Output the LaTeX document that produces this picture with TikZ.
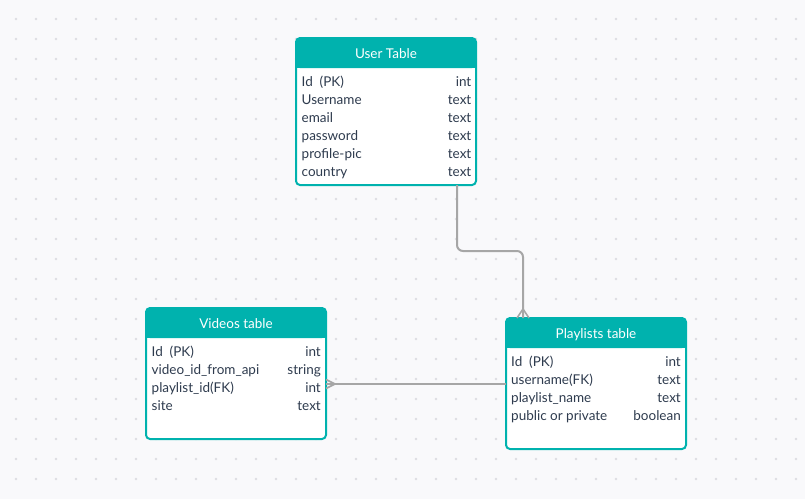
\documentclass[tikz,border=0pt]{standalone}
\usepackage{fontspec}
\setmainfont{Lato}
\definecolor{headteal}{HTML}{00B2AE}
\definecolor{ink}{HTML}{2E3B4E}
\definecolor{paper}{HTML}{F9F9FB}
\definecolor{dotgrey}{HTML}{DDDDE2}
\definecolor{linkgrey}{HTML}{A6A6A6}
\begin{document}
\begin{tikzpicture}[
        x=1pt, y=-1pt,
        font=\fontsize{13.5}{16}\selectfont
    ]
    \tikzset{
        tablebox/.style = {rectangle, draw=headteal, line width=2pt, rounded corners=4pt, fill=white,
                           minimum width=180pt, inner sep=0pt, outer sep=0pt, anchor=north west},
        tablehead/.style = {text=white, anchor=base, inner sep=0pt},
        field/.style = {text=ink, anchor=base west, inner sep=0pt},
        ftype/.style = {text=ink, anchor=base east, inner sep=0pt},
        link/.style = {draw=linkgrey, line width=2pt, rounded corners=6pt},
        crow/.style = {draw=linkgrey, line width=1.6pt},
    }
    % background and dot grid
    \fill[paper] (0,0) rectangle (805,499);
    \useasboundingbox (0,0) rectangle (805,499);
    \foreach \x in {16,36,...,796}
        \foreach \y in {19,39,...,489}
            \fill[dotgrey] (\x,\y) circle (1.3pt);

    % user table
    \node[tablebox, minimum height=147pt] (user) at (296,38) {};
    \fill[headteal, rounded corners=4pt] (user.north west) rectangle ([yshift=-30pt]user.north east);
    \fill[headteal] ([yshift=-22pt]user.north west) rectangle ([yshift=-30pt]user.north east);
    \node[tablehead] (userhead) at ([yshift=-20pt]user.north) {User Table};
    \node[field] (uid) at (301.5,86) {Id\ \ (PK)};
    \node[ftype] (uidt) at (471.5,86) {int};
    \node[field] (uname) at (301.5,104) {Username};
    \node[ftype] (unamet) at (471.5,104) {text};
    \node[field] (umail) at (301.5,122) {email};
    \node[ftype] (umailt) at (471.5,122) {text};
    \node[field] (upass) at (301.5,140) {password};
    \node[ftype] (upasst) at (471.5,140) {text};
    \node[field] (upic) at (301.5,158) {profile-pic};
    \node[ftype] (upict) at (471.5,158) {text};
    \node[field] (ucountry) at (301.5,176) {country};
    \node[ftype] (ucountryt) at (471.5,176) {text};

    % videos table
    \node[tablebox, minimum height=131pt] (videos) at (146,308) {};
    \fill[headteal, rounded corners=4pt] (videos.north west) rectangle ([yshift=-30pt]videos.north east);
    \fill[headteal] ([yshift=-22pt]videos.north west) rectangle ([yshift=-30pt]videos.north east);
    \node[tablehead] (videoshead) at ([yshift=-20pt]videos.north) {Videos table};
    \node[field] (vid) at (151.5,356) {Id\ \ (PK)};
    \node[ftype] (vidt) at (321,356) {int};
    \node[field] (vapi) at (151.5,374) {video\_id\_from\_api};
    \node[ftype] (vapit) at (321,374) {string};
    \node[field] (vplist) at (151.5,392) {playlist\_id(FK)};
    \node[ftype] (vplistt) at (321,392) {int};
    \node[field] (vsite) at (151.5,410) {site};
    \node[ftype] (vsitet) at (321,410) {text};

    % playlists table
    \node[tablebox, minimum height=131pt] (playlists) at (506,318) {};
    \fill[headteal, rounded corners=4pt] (playlists.north west) rectangle ([yshift=-30pt]playlists.north east);
    \fill[headteal] ([yshift=-22pt]playlists.north west) rectangle ([yshift=-30pt]playlists.north east);
    \node[tablehead] (playlistshead) at ([yshift=-20pt]playlists.north) {Playlists table};
    \node[field] (pid) at (511,366) {Id\ \ (PK)};
    \node[ftype] (pidt) at (681,366) {int};
    \node[field] (puser) at (511,384) {username(FK)};
    \node[ftype] (pusert) at (681,384) {text};
    \node[field] (pname) at (511,402) {playlist\_name};
    \node[ftype] (pnamet) at (681,402) {text};
    \node[field] (ppublic) at (511,420) {public or private};
    \node[ftype] (ppublict) at (681,420) {boolean};

    % connectors
    \coordinate (utop) at ([xshift=-19pt]user.south east);
    \coordinate (ptop) at ([xshift=17pt]playlists.north west);
    \draw[link] (utop) -- (utop |- 0,251) -- (ptop |- 0,251) -- (ptop);
    \draw[crow] ([yshift=9pt]ptop) -- ([xshift=-6pt]ptop)
                ([yshift=9pt]ptop) -- ([xshift=6pt]ptop);

    \coordinate (pend) at (playlists.west |- 0,384);
    \coordinate (vend) at (videos.east |- 0,384);
    \draw[link] (pend) -- (vend);
    \draw[crow] ([xshift=9pt]vend) -- ([yshift=4.5pt]vend)
                ([xshift=9pt]vend) -- ([yshift=-4.5pt]vend);
\end{tikzpicture}
\end{document}
